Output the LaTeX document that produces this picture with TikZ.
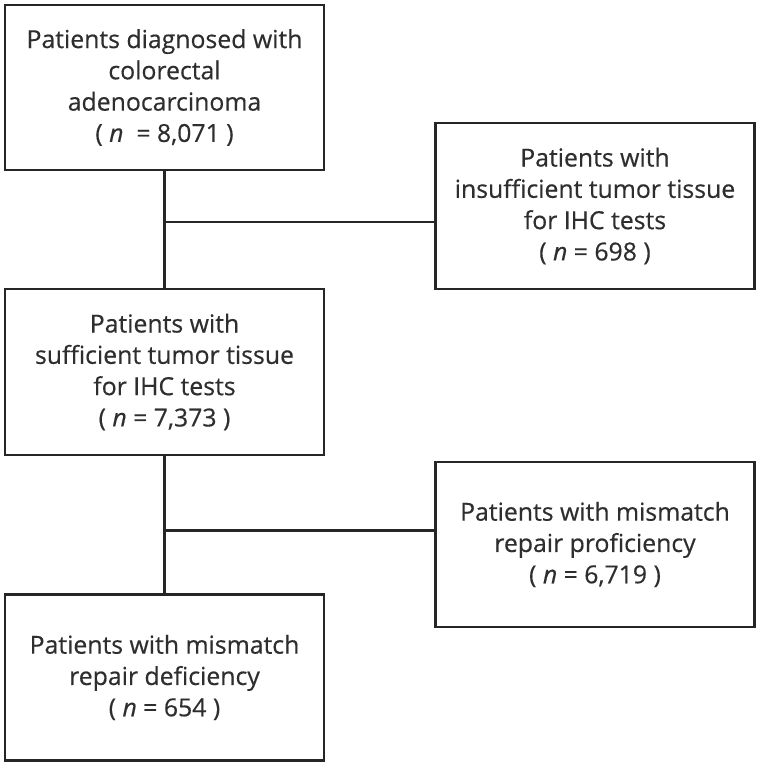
\documentclass[tikz,border=0pt]{standalone}
\usepackage{fontspec}
\setmainfont{Open Sans}[UprightFeatures={FakeBold=0.45},ItalicFeatures={FakeBold=0.45}]
\begin{document}
\begin{tikzpicture}[x=1pt,y=-1pt,
  box/.style={draw=black!85,line width=2.6pt,minimum width=#1,inner sep=0pt,text=black!82,align=center,font=\fontsize{24.8}{31.3}\selectfont},
  conn/.style={draw=black!85,line width=2.6pt}]
\useasboundingbox (0,0) rectangle (760,766);
\node[box=319pt,minimum height=165pt] (a) at (164.5,87.5) {Patients diagnosed with\\colorectal\\adenocarcinoma\\( \textit{n}\ \ = 8,071 )};
\node[box=319pt,minimum height=166pt] (b) at (595,206) {Patients with\\insufficient tumor tissue\\for IHC tests\\( \textit{n} = 698 )};
\node[box=319pt,minimum height=166pt] (c) at (164.5,372) {Patients with\\sufficient tumor tissue\\for IHC tests\\( \textit{n} = 7,373 )};
\node[box=319pt,minimum height=165pt] (d) at (595,544.5) {Patients with mismatch\\repair proficiency\\( \textit{n} = 6,719 )};
\node[box=319pt,minimum height=166pt] (e) at (164.5,677.5) {Patients with mismatch\\repair deficiency\\( \textit{n} = 654 )};
\coordinate (j1) at (164.5,222);
\coordinate (j2) at (164.5,530.5);
\draw[conn] (a.south) -- (c.north);
\draw[conn] (j1) -- (j1 -| b.west);
\draw[conn] (c.south) -- (e.north);
\draw[conn] (j2) -- (j2 -| d.west);
\end{tikzpicture}
\end{document}
